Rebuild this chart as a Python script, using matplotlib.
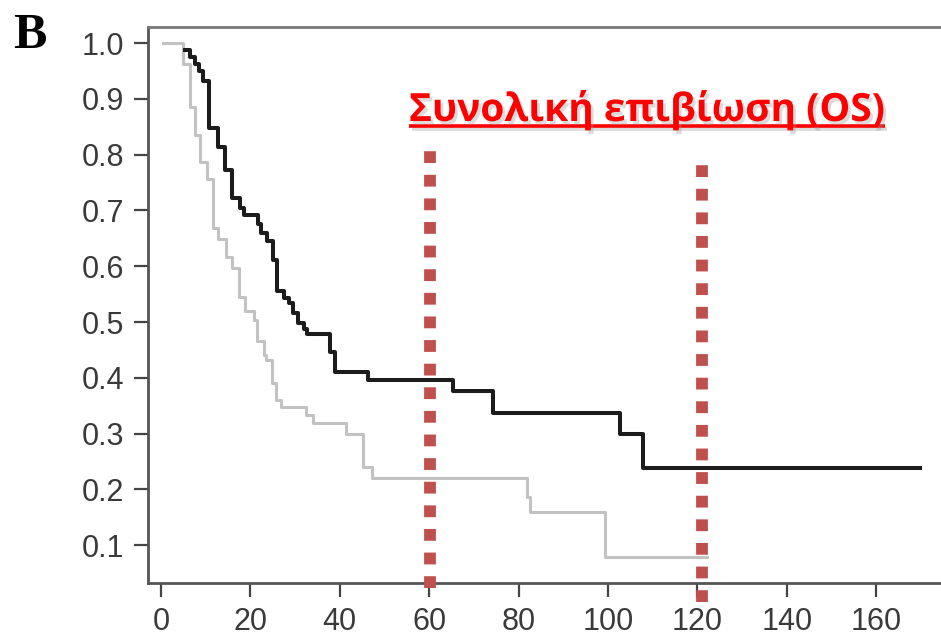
import matplotlib
matplotlib.use("Agg")
import matplotlib.pyplot as plt
import matplotlib.patheffects as pe
from matplotlib.lines import Line2D

# Kaplan-Meier style curves (months, survival fraction)
black_t = [5.4, 6.5, 7.6, 8.6, 9.5, 10.7, 12.8, 14.3, 15.9, 17.7, 18.6, 21.7, 22.4,
           23.7, 25.1, 26.0, 27.5, 28.6, 29.5, 30.6, 32.0, 32.7, 37.8, 38.9, 46.3,
           65.3, 74.3, 102.7, 107.8, 169.8]
black_s = [0.987, 0.975, 0.962, 0.95, 0.932, 0.848, 0.814, 0.772, 0.722, 0.705, 0.692,
           0.675, 0.66, 0.645, 0.611, 0.555, 0.543, 0.534, 0.516, 0.498, 0.488, 0.478,
           0.446, 0.41, 0.396, 0.376, 0.337, 0.30, 0.238, 0.238]

gray_t = [0.45, 4.9, 6.5, 7.6, 8.7, 10.3, 11.6, 12.8, 14.5, 15.9, 17.4, 18.8, 20.8,
          21.5, 23.0, 23.5, 24.8, 25.7, 26.8, 32.4, 34.0, 41.4, 45.2, 47.2, 81.9,
          82.6, 99.3, 122.1]
gray_s = [1.0, 0.963, 0.886, 0.835, 0.787, 0.757, 0.668, 0.648, 0.617, 0.597, 0.545,
          0.52, 0.504, 0.466, 0.44, 0.432, 0.39, 0.36, 0.348, 0.333, 0.319, 0.30,
          0.24, 0.22, 0.186, 0.16, 0.079, 0.079]

# landmark times marked by the red dotted lines (5 and 10 years)
mark_t = [60.2, 121.0]
mark_top = [0.808, 0.781]
mark_bot = [0.023, -0.002]

xticks = [0, 20, 40, 60, 80, 100, 120, 140, 160]
yticks = [0.1, 0.2, 0.3, 0.4, 0.5, 0.6, 0.7, 0.8, 0.9, 1.0]

title = "Συνολική επιβίωση (OS)"

W, H = 941, 641
fig = plt.figure(figsize=(W / 100, H / 100), dpi=100)
ax = fig.add_axes([148 / W, 58 / H, 1 - 148 / W, 556 / H])

ax.step(gray_t, gray_s, where="post", color="#c2c2c2", lw=2.2, zorder=2)
ax.step(black_t, black_s, where="post", color="#1c1c1c", lw=2.9, zorder=3)

for t, top, bot in zip(mark_t, mark_top, mark_bot):
    ax.plot([t, t], [bot, top], color="#c0504d", lw=8.5, ls=(0, (1, 1)),
            solid_capstyle="butt", dash_capstyle="butt", clip_on=False, zorder=4)

ax.set_xlim(-2.9, 174.5)
ax.set_ylim(0.032, 1.029)
ax.set_xticks(xticks)
ax.set_yticks(yticks)
ax.set_yticklabels([f"{v:.1f}" for v in yticks])

for side in ("left", "bottom", "top"):
    ax.spines[side].set_color("#555555")
    ax.spines[side].set_linewidth(2.0)
ax.spines["top"].set_color("#777777")
ax.spines["right"].set_visible(False)
ax.tick_params(direction="out", length=10, width=1.6, color="#444444",
               labelsize=22, labelcolor="#3a3a3a", pad=7)
for lab in ax.get_xticklabels() + ax.get_yticklabels():
    lab.set_family("Liberation Sans")

fig.text(13 / W, 1 - 48 / H, "B", family="Liberation Serif", fontweight="bold",
         fontsize=36, va="baseline", ha="left")

shadow = [pe.withSimplePatchShadow(offset=(2, -2.5), shadow_rgbFace="#999999", alpha=0.35)]
txt = fig.text(409 / W, 1 - 121 / H, title, family="Open Sans", fontweight="bold",
               fontsize=28, color="#ff0000", va="baseline", ha="left", path_effects=shadow)

# underline drawn under the measured text extent
fig.canvas.draw()
bb = txt.get_window_extent(fig.canvas.get_renderer())
uy = (1 - 126 / H)
ul = Line2D([bb.x0 / W, bb.x1 / W], [uy, uy], transform=fig.transFigure,
            color="#ff0000", lw=2.6, solid_capstyle="butt",
            path_effects=[pe.SimpleLineShadow(offset=(2, -2.5), shadow_color="#999999", alpha=0.35), pe.Normal()])
fig.add_artist(ul)

fig.savefig("out.png", dpi=100)
